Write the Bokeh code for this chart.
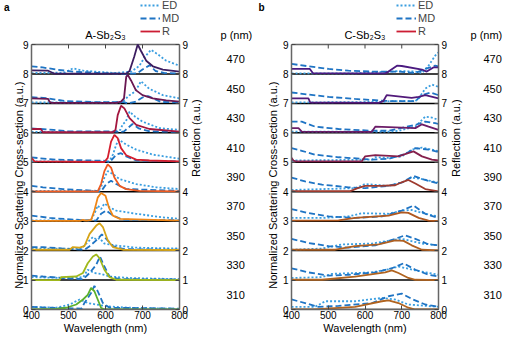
import math
from bokeh.plotting import figure
from bokeh.models import Range1d, LinearAxis, Label, Legend, LegendItem, FixedTicker, ColumnDataSource
from bokeh.layouts import row
from bokeh.embed import file_html
from bokeh.resources import INLINE

FONT = "Liberation Sans"

periods = [310, 330, 350, 370, 390, 410, 430, 450, 470]
wl_ticks = [400, 500, 600, 700, 800]
top_ticks = [500, 600, 700]
y_ticks = [0, 1, 2, 3, 4, 5, 6, 7, 8, 9]
band_centers = [0.5, 1.5, 2.5, 3.5, 4.5, 5.5, 6.5, 7.5, 8.5]
Y_LABEL = "Normalized Scattering Cross-section (a.u.)"
R_LABEL = "Reflection (a.u.)"
X_LABEL = "Wavelength (nm)"

ED_COLOR = "#3a9ee0"
MD_COLOR = "#1f74c4"
R_LEGEND_COLOR = "#cc1d33"

# ---------------- A-Sb2S3 (left panel) ----------------
A_R = {
    470: ([400, 445, 455, 462, 656, 665, 678, 687, 696, 710, 728, 755, 800],
          [0.12, 0.11, 0.05, 0.01, 0.01, 0.1, 0.6, 1.0, 0.78, 0.45, 0.26, 0.15, 0.08]),
    450: ([400, 445, 449, 455, 629, 642, 650, 656, 660, 669, 682, 700, 728, 764, 800],
          [0.17, 0.15, 0.05, 0.02, 0.02, 0.06, 0.17, 0.9, 0.97, 0.78, 0.45, 0.28, 0.17, 0.1, 0.06]),
    430: ([400, 425, 431, 620, 627, 633, 642, 651, 665, 683, 719, 800],
          [0.13, 0.13, 0.02, 0.02, 0.1, 0.6, 0.92, 0.83, 0.5, 0.27, 0.13, 0.04]),
    410: ([400, 408, 597, 606, 615, 624, 633, 642, 656, 683, 719, 800],
          [0.15, 0.03, 0.01, 0.15, 0.7, 0.93, 0.82, 0.48, 0.24, 0.09, 0.06, 0.03]),
    390: ([400, 579, 588, 597, 606, 615, 624, 638, 656, 692, 800],
          [0.01, 0.01, 0.26, 0.7, 0.93, 0.82, 0.48, 0.2, 0.09, 0.03, 0.01]),
    370: ([400, 530, 539, 548, 561, 570, 579, 588, 600, 609, 620, 638, 800],
          [0.01, 0.01, 0.04, 0.02, 0.04, 0.36, 0.8, 0.96, 0.86, 0.47, 0.19, 0.08, 0.02]),
    350: ([400, 503, 512, 530, 543, 557, 575, 584, 593, 606, 620, 647, 800],
          [0.03, 0.03, 0.12, 0.1, 0.15, 0.57, 0.85, 0.93, 0.8, 0.35, 0.12, 0.03, 0.02]),
    330: ([400, 476, 480, 521, 539, 552, 566, 575, 584, 597, 611, 629, 800],
          [0.0, 0.0, 0.1, 0.12, 0.24, 0.57, 0.8, 0.87, 0.74, 0.35, 0.1, 0.01, 0.0]),
    310: ([400, 467, 494, 521, 539, 552, 561, 570, 579, 588, 597, 800],
          [0.0, 0.02, 0.06, 0.17, 0.34, 0.5, 0.73, 0.62, 0.34, 0.06, 0.0, 0.0]),
}
A_ED = {
    470: ([400, 490, 512, 540, 625, 670, 692, 705, 723, 741, 764, 800],
          [0.03, 0.05, 0.19, 0.11, 0.03, 0.08, 0.28, 0.56, 0.82, 0.67, 0.45, 0.28]),
    450: ([400, 640, 650, 665, 680, 696, 718, 755, 800],
          [0.03, 0.03, 0.1, 0.28, 0.4, 0.75, 0.5, 0.28, 0.17]),
    430: ([400, 620, 640, 647, 655, 665, 680, 700, 746, 800],
          [0.03, 0.03, 0.1, 0.3, 0.38, 0.72, 0.55, 0.38, 0.16, 0.1]),
    410: ([400, 610, 620, 629, 636, 656, 683, 728, 800],
          [0.03, 0.03, 0.26, 0.6, 0.77, 0.6, 0.43, 0.26, 0.12]),
    390: ([400, 580, 588, 597, 606, 620, 638, 683, 737, 800],
          [0.03, 0.03, 0.15, 0.48, 0.7, 0.6, 0.43, 0.26, 0.15, 0.09]),
    370: ([400, 560, 570, 579, 588, 597, 611, 629, 683, 755, 800],
          [0.03, 0.03, 0.25, 0.53, 0.41, 0.6, 0.47, 0.36, 0.25, 0.13, 0.08]),
    350: ([400, 535, 548, 557, 566, 575, 584, 597, 625, 683, 800],
          [0.07, 0.07, 0.24, 0.35, 0.46, 0.38, 0.42, 0.24, 0.18, 0.1, 0.07]),
    330: ([400, 490, 540, 552, 570, 588, 611, 665, 800],
          [0.1, 0.07, 0.1, 0.35, 0.24, 0.21, 0.12, 0.07, 0.03]),
    310: ([400, 467, 503, 530, 552, 575, 602, 665, 800],
          [0.09, 0.06, 0.17, 0.34, 0.22, 0.17, 0.11, 0.06, 0.02]),
}
A_MD = {
    470: ([400, 430, 467, 512, 575, 650, 685, 700, 720, 735, 760, 800],
          [0.26, 0.22, 0.15, 0.08, 0.04, 0.0, 0.02, 0.15, 0.3, 0.1, 0.03, 0.02]),
    450: ([400, 440, 490, 580, 650, 660, 680, 700, 715, 750, 800],
          [0.21, 0.18, 0.08, 0.04, 0.04, 0.0, 0.05, 0.2, 0.25, 0.05, 0.03]),
    430: ([400, 460, 500, 620, 640, 650, 673, 690, 720, 800],
          [0.15, 0.1, 0.05, 0.05, 0.03, 0.05, 0.3, 0.15, 0.05, 0.03]),
    410: ([400, 420, 465, 600, 611, 629, 642, 656, 683, 800],
          [0.17, 0.14, 0.09, 0.05, 0.0, 0.26, 0.31, 0.2, 0.06, 0.03]),
    390: ([400, 431, 485, 575, 588, 602, 615, 629, 656, 800],
          [0.2, 0.15, 0.09, 0.03, 0.01, 0.26, 0.37, 0.26, 0.09, 0.03]),
    370: ([400, 449, 530, 575, 588, 602, 620, 647, 800],
          [0.19, 0.11, 0.04, 0.02, 0.25, 0.36, 0.19, 0.05, 0.03]),
    350: ([400, 431, 485, 543, 557, 575, 590, 602, 620, 650, 800],
          [0.12, 0.12, 0.07, 0.03, 0.15, 0.35, 0.55, 0.4, 0.15, 0.05, 0.03]),
    330: ([400, 431, 485, 540, 557, 575, 585, 597, 611, 638, 800],
          [0.15, 0.12, 0.07, 0.03, 0.24, 0.52, 0.8, 0.46, 0.12, 0.03, 0.02]),
    310: ([400, 445, 535, 543, 561, 570, 579, 593, 611, 800],
          [0.09, 0.06, 0.03, 0.22, 0.56, 0.8, 0.62, 0.22, 0.06, 0.03]),
}
A_R_COLORS = {310: "#5bb02c", 330: "#a0b81c", 350: "#d6a418", 370: "#f08616", 390: "#ee5a20",
              410: "#d41e2e", 430: "#a3163f", 450: "#6a1752", 470: "#3c1d60"}

# ---------------- C-Sb2S3 (right panel) ----------------
C_R = {
    470: ([400, 450, 458, 655, 664, 687, 700, 755, 768, 786, 800],
          [0.17, 0.17, 0.03, 0.02, 0.08, 0.28, 0.27, 0.15, 0.08, 0.22, 0.22]),
    450: ([400, 446, 451, 637, 650, 659, 727, 746, 764, 800],
          [0.17, 0.17, 0.03, 0.02, 0.08, 0.28, 0.19, 0.22, 0.28, 0.17]),
    430: ([400, 419, 428, 618, 628, 737, 755, 773, 800],
          [0.16, 0.16, 0.04, 0.03, 0.21, 0.16, 0.29, 0.21, 0.1]),
    410: ([400, 405, 412, 591, 600, 628, 691, 709, 732, 755, 782, 800],
          [0.15, 0.06, 0.03, 0.03, 0.2, 0.24, 0.2, 0.28, 0.37, 0.2, 0.09, 0.06]),
    390: ([400, 560, 580, 600, 640, 682, 700, 718, 737, 764, 800],
          [0.02, 0.02, 0.12, 0.2, 0.2, 0.22, 0.32, 0.4, 0.28, 0.09, 0.01]),
    370: ([400, 528, 573, 664, 700, 718, 746, 773, 800],
          [0.02, 0.03, 0.11, 0.19, 0.3, 0.28, 0.11, 0.02, 0.0]),
    350: ([400, 519, 573, 637, 682, 705, 727, 755, 800],
          [0.03, 0.03, 0.15, 0.21, 0.35, 0.33, 0.18, 0.03, 0.01]),
    330: ([400, 483, 573, 655, 673, 691, 718, 737, 800],
          [0.01, 0.01, 0.12, 0.26, 0.33, 0.24, 0.07, 0.01, 0.0]),
    310: ([400, 464, 483, 573, 646, 664, 691, 718, 737, 800],
          [0.0, 0.0, 0.02, 0.09, 0.28, 0.31, 0.22, 0.06, 0.0, 0.0]),
}
C_ED = {
    470: ([400, 573, 628, 673, 691, 737, 755, 773, 791, 800],
          [0.02, 0.02, 0.06, 0.08, 0.1, 0.08, 0.03, 0.28, 0.62, 0.73]),
    450: ([400, 646, 673, 737, 746, 764, 782, 800],
          [0.03, 0.05, 0.08, 0.08, 0.17, 0.5, 0.64, 0.56]),
    430: ([400, 664, 691, 737, 764, 782, 800],
          [0.04, 0.04, 0.07, 0.21, 0.55, 0.52, 0.44]),
    410: ([400, 619, 628, 664, 700, 727, 755, 782, 800],
          [0.06, 0.09, 0.17, 0.15, 0.2, 0.43, 0.5, 0.43, 0.37]),
    390: ([400, 573, 600, 664, 700, 727, 755, 800],
          [0.06, 0.12, 0.26, 0.2, 0.31, 0.48, 0.43, 0.31]),
    370: ([400, 483, 555, 591, 664, 700, 727, 764, 800],
          [0.11, 0.11, 0.16, 0.27, 0.25, 0.36, 0.38, 0.25, 0.16]),
    350: ([400, 483, 537, 619, 682, 700, 755, 800],
          [0.03, 0.07, 0.21, 0.24, 0.37, 0.4, 0.24, 0.18]),
    330: ([400, 483, 510, 619, 664, 691, 737, 800],
          [0.07, 0.1, 0.21, 0.26, 0.37, 0.46, 0.33, 0.18]),
    310: ([400, 464, 492, 573, 646, 682, 718, 800],
          [0.09, 0.09, 0.28, 0.28, 0.39, 0.34, 0.17, 0.09]),
}
C_MD = {
    470: ([400, 446, 501, 555, 619, 691, 737, 764, 791, 800],
          [0.34, 0.26, 0.17, 0.11, 0.08, 0.08, 0.03, 0.17, 0.28, 0.26]),
    450: ([400, 446, 501, 573, 664, 737, 755, 778, 800],
          [0.37, 0.3, 0.22, 0.15, 0.08, 0.08, 0.28, 0.37, 0.28]),
    430: ([400, 428, 464, 528, 619, 664, 737, 764, 791, 800],
          [0.38, 0.38, 0.21, 0.13, 0.07, 0.07, 0.27, 0.38, 0.33, 0.3]),
    410: ([400, 428, 464, 528, 591, 619, 664, 709, 737, 773, 800],
          [0.48, 0.39, 0.26, 0.17, 0.12, 0.09, 0.12, 0.28, 0.48, 0.43, 0.35]),
    390: ([400, 437, 483, 555, 600, 664, 700, 732, 755, 800],
          [0.48, 0.35, 0.24, 0.15, 0.12, 0.2, 0.31, 0.54, 0.43, 0.28]),
    370: ([400, 437, 501, 573, 646, 700, 732, 764, 800],
          [0.41, 0.3, 0.16, 0.11, 0.16, 0.36, 0.53, 0.25, 0.11]),
    350: ([400, 446, 501, 555, 628, 682, 709, 737, 773, 800],
          [0.4, 0.26, 0.15, 0.1, 0.18, 0.4, 0.52, 0.4, 0.21, 0.18]),
    330: ([400, 446, 501, 555, 628, 673, 705, 737, 773, 800],
          [0.4, 0.26, 0.15, 0.18, 0.26, 0.4, 0.57, 0.35, 0.18, 0.12]),
    310: ([400, 437, 473, 528, 619, 664, 700, 727, 764, 800],
          [0.34, 0.22, 0.09, 0.12, 0.22, 0.45, 0.54, 0.36, 0.17, 0.09]),
}
C_R_COLORS = {310: "#b0631f", 330: "#b0631f", 350: "#ae5f21", 370: "#b0581f", 390: "#9e3a2e",
              410: "#85204c", 430: "#6c1d68", 450: "#521a7a", 470: "#4b1a80"}

# ---------------- geometry ----------------
FRAME_H = 309
BORDER_BOTTOM = 25
BAND_PX = 265 / 9                          # pixel height of one unit band
Y_TOP = FRAME_H / BAND_PX                  # data value at the top of the canvas
TICK = 4 / BAND_PX                         # 4 px inward tick in data units
HEAD_Y = 9 + 10 / BAND_PX                  # row of title / "p (nm)"
LETTER_Y = 9 + 40 / BAND_PX
MID_Y = 4.5


def style_axis(ax, size="10px"):
    ax.major_tick_in = 4
    ax.major_tick_out = 0
    ax.minor_tick_line_color = None
    ax.axis_line_color = "#666666"
    ax.axis_line_width = 1.5
    ax.major_tick_line_color = "#444444"
    ax.major_label_text_font = FONT
    ax.major_label_text_font_size = size
    ax.major_label_text_color = "black"
    ax.axis_label_text_font = FONT
    ax.axis_label_text_font_size = "11px"
    ax.axis_label_text_font_style = "normal"
    ax.axis_label_text_color = "black"


def text_axis(ticks, labels, standoff, size="11px", bold=False, vertical=False):
    ax = LinearAxis(ticker=FixedTicker(ticks=ticks),
                    major_label_overrides={t: s for t, s in zip(ticks, labels)})
    ax.axis_line_color = None
    ax.major_tick_line_color = None
    ax.minor_tick_line_color = None
    ax.major_tick_in = 0
    ax.major_tick_out = 0
    ax.major_label_text_font = FONT
    ax.major_label_text_color = "black"
    ax.major_label_text_font_size = size
    ax.major_label_standoff = standoff
    if bold:
        ax.major_label_text_font_style = "bold"
    if vertical:
        ax.major_label_orientation = math.pi / 2
    return ax


def make_panel(R, ED, MD, colors, title, letter, bl, fw, br, st, leg_x):
    p = figure(frame_width=fw, frame_height=FRAME_H, x_range=Range1d(400, 800), y_range=Range1d(0, Y_TOP),
               output_backend="svg", toolbar_location=None, title=None,
               min_border_left=bl, min_border_right=br, min_border_top=0, min_border_bottom=BORDER_BOTTOM)
    p.grid.visible = False
    p.outline_line_color = None
    p.background_fill_color = "white"
    p.border_fill_color = "white"

    p.xaxis.ticker = FixedTicker(ticks=wl_ticks)
    p.yaxis.ticker = FixedTicker(ticks=y_ticks)
    p.yaxis.bounds = (0, 9)
    p.xaxis.axis_label = X_LABEL
    style_axis(p.xaxis[0])
    style_axis(p.yaxis[0])
    p.xaxis.major_label_standoff = 1
    p.xaxis.axis_label_standoff = 0
    p.yaxis.major_label_standoff = 3

    # left: y-axis title (as a rotated label centred on the 0..9 span) and panel letter
    p.add_layout(text_axis([MID_Y], [Y_LABEL], st["ylab"], vertical=True), "left")
    p.add_layout(text_axis([LETTER_Y], [letter], st["letter"], size="10px", bold=True), "left")

    # right: reflection axis, its title, period column and its header
    ry = LinearAxis(ticker=FixedTicker(ticks=y_ticks), bounds=(0, 9))
    style_axis(ry)
    ry.major_label_standoff = 3
    p.add_layout(ry, "right")
    p.add_layout(text_axis([MID_Y], [R_LABEL], st["rlab"], vertical=True), "right")
    p.add_layout(text_axis(band_centers, [str(v) for v in periods], st["per"]), "right")
    p.add_layout(text_axis([HEAD_Y], ["p (nm)"], st["head"]), "right")

    # frame top line and inward top ticks
    p.segment(x0=[400], y0=[9], x1=[800], y1=[9], line_color="#666666", line_width=1.5)
    p.segment(x0=top_ticks, y0=[9] * len(top_ticks), x1=top_ticks, y1=[9 - TICK] * len(top_ticks),
              line_color="#444444", line_width=1)

    base = ColumnDataSource(dict(x0=[400] * 9, x1=[800] * 9, y=y_ticks[:-1]))
    p.segment(x0="x0", y0="y", x1="x1", y1="y", source=base, line_color="black", line_width=1.5)

    r_ed = r_md = None
    for i, per in enumerate(periods):
        xe, ye = ED[per]
        r_ed = p.line(list(xe), [i + v for v in ye], line_color=ED_COLOR, line_width=1.8, line_dash="2 2")
        xm, ym = MD[per]
        r_md = p.line(list(xm), [i + v for v in ym], line_color=MD_COLOR, line_width=1.8, line_dash="6 3")
        xr, yr = R[per]
        p.line(list(xr), [i + v for v in yr], line_color=colors[per], line_width=1.8)
    # legend proxy for R (kept below the visible range)
    r_leg = p.line([400, 800], [-1, -1], line_color=R_LEGEND_COLOR, line_width=1.8)

    legend = Legend(items=[LegendItem(label="ED", renderers=[r_ed]),
                           LegendItem(label="MD", renderers=[r_md]),
                           LegendItem(label="R", renderers=[r_leg])],
                    location=(leg_x, 272), padding=0, margin=0, spacing=1, glyph_width=20,
                    glyph_height=12, label_height=12, label_standoff=2,
                    label_text_font=FONT, label_text_font_size="11px",
                    border_line_color=None, background_fill_alpha=0)
    p.add_layout(legend)

    p.add_layout(Label(x=600, y=HEAD_Y, text=title, text_align="center", text_baseline="middle",
                       text_font=FONT, text_font_size="11px", text_color="black"))
    return p


pa_ = make_panel(A_R, A_ED, A_MD, A_R_COLORS, "A-Sb₂S₃", "a", 24, 148, 74,
                 dict(ylab=0, letter=-5, rlab=4, per=16, head=-27), 109)
pb_ = make_panel(C_R, C_ED, C_MD, C_R_COLORS, "C-Sb₂S₃", "b", 35, 147, 65,
                 dict(ylab=6, letter=-6, rlab=5, per=13, head=-34), 105)

layout = row(pa_, pb_)
open("out.html", "w").write(file_html(layout, INLINE))
